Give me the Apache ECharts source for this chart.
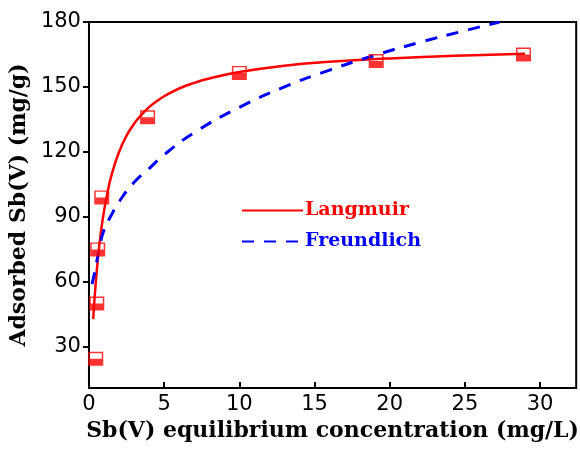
<!DOCTYPE html>
<html><head><meta charset="utf-8">
<script src="https://cdn.jsdelivr.net/npm/echarts@6/dist/echarts.min.js"></script>
<style>html,body{margin:0;padding:0;background:#fff}#c{width:580px;height:452px}</style>
</head><body><div id="c"></div>
<script>
// Experimental data
const expC = [0.45, 0.52, 0.58, 0.85, 3.9, 10.0, 19.1, 28.9];
const expQ = [24.5, 50, 75, 99, 136, 156.5, 162, 165];
// Langmuir fit curve
const langC = [0.28, 0.4, 0.6, 0.8, 1.0, 1.25, 1.5, 2, 2.5, 3, 3.5, 4, 4.5, 5, 6, 7, 8, 10, 13, 16, 20, 25, 29];
const langQ = [42.8, 55.1, 71.2, 83.3, 92.7, 101.9, 109.3, 120.0, 127.5, 133.0, 137.2, 140.7, 143.4, 145.7, 149.3, 151.9, 153.9, 156.9, 159.8, 161.6, 163.2, 164.5, 165.3];
// Freundlich fit curve
const freuC = [0.2, 0.4, 0.7, 1, 1.5, 2, 3, 4, 5, 7, 10, 13, 16, 19, 22, 25, 27.3];
const freuQ = [59, 65, 76, 84, 91, 97, 106, 112.3, 118.7, 128.9, 140.6, 150, 157.8, 164.6, 170.6, 176, 180];
// Tick labels
const xTicks = [0, 5, 10, 15, 20, 25, 30];
const yTicks = [30, 60, 90, 120, 150, 180];

const zip = (a, b) => a.map((v, i) => [v, b[i]]);
const halfSquare = 'path://M0,0 H10 V10 H0 Z M1,1 V5 H9 V1 Z';
const titleFont = { fontFamily: 'DejaVu Serif', fontWeight: 'bold', fontSize: 22, color: '#000' };
const tickFont = { fontFamily: 'DejaVu Sans', fontSize: 21, color: '#000' };

const chart = echarts.init(document.getElementById('c'));
chart.setOption({
  animation: false,
  grid: { left: 85, right: 2, top: 22, bottom: 64, show: true, borderColor: '#000', borderWidth: 2 },
  xAxis: {
    type: 'value', min: 0, max: 32.4,
    name: 'Sb(V) equilibrium concentration (mg/L)', nameLocation: 'middle', nameGap: 26,
    nameTextStyle: titleFont,
    axisLine: { lineStyle: { color: '#000', width: 2 } },
    axisTick: { inside: true, length: 6, lineStyle: { width: 2 }, customValues: xTicks },
    axisLabel: Object.assign({ customValues: xTicks, margin: 6 }, tickFont),
    splitLine: { show: false }
  },
  yAxis: {
    type: 'value', min: 11, max: 180,
    name: 'Adsorbed Sb(V) (mg/g)', nameLocation: 'middle', nameGap: 56,
    nameTextStyle: titleFont,
    axisLine: { lineStyle: { color: '#000', width: 2 } },
    axisTick: { inside: false, length: 6, lineStyle: { width: 2 }, customValues: yTicks },
    axisLabel: Object.assign({ customValues: yTicks, margin: 8 }, tickFont),
    splitLine: { show: false }
  },
  legend: {
    orient: 'vertical', left: 236, top: 196, itemWidth: 61, itemHeight: 14, itemGap: 12,
    itemStyle: { opacity: 0 },
    data: [
      { name: 'Langmuir', textStyle: { color: '#ff0000' } },
      { name: 'Freundlich', textStyle: { color: '#0000ff' } }
    ],
    textStyle: { fontFamily: 'DejaVu Serif', fontWeight: 'bold', fontSize: 19, padding: [0, 0, 0, -3] }
  },
  series: [
    { name: 'Langmuir', type: 'line', smooth: true, symbol: 'none', data: zip(langC, langQ),
      lineStyle: { color: '#ff0000', width: 2.5 }, itemStyle: { color: '#ff0000' } },
    { name: 'Freundlich', type: 'line', smooth: true, symbol: 'none', data: zip(freuC, freuQ),
      lineStyle: { color: '#0000ff', width: 3, type: [12, 10] }, itemStyle: { color: '#0000ff' } },
    { name: 'Experimental', type: 'scatter', symbol: halfSquare, symbolSize: [15, 14],
      data: zip(expC, expQ), itemStyle: { color: '#ff0000' }, z: 5 }
  ]
});
</script></body></html>
